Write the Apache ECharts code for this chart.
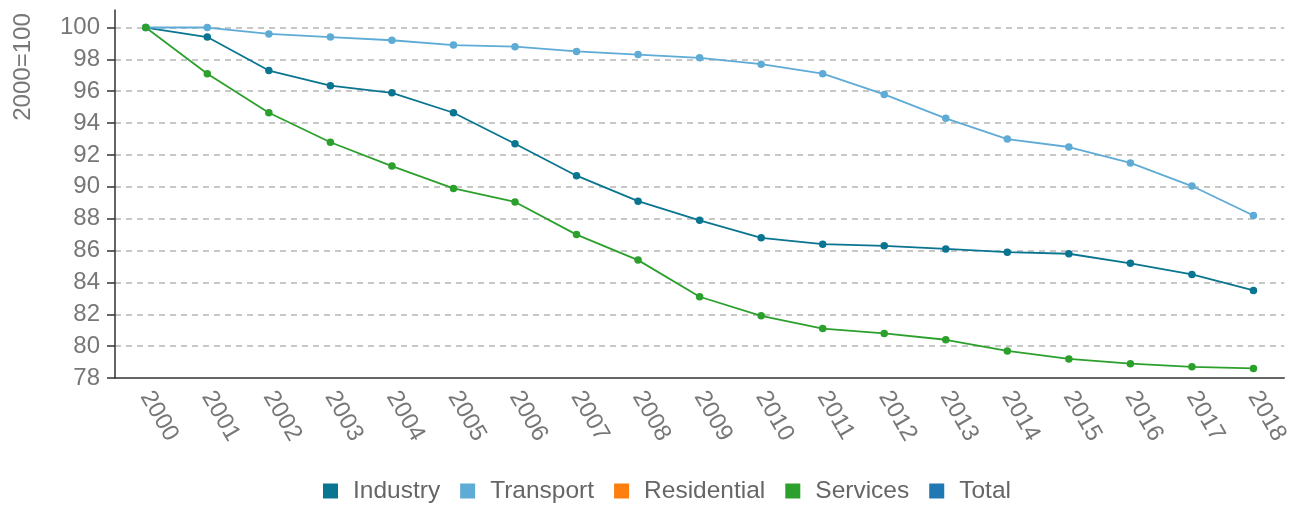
<!DOCTYPE html>
<html>
<head>
<meta charset="utf-8">
<script src="https://cdn.jsdelivr.net/npm/echarts@6/dist/echarts.min.js"></script>
<style>html,body{margin:0;padding:0;background:#fff}#c{width:1292px;height:505px}</style>
</head>
<body>
<div id="c"></div>
<script>
const years = ['2000','2001','2002','2003','2004','2005','2006','2007','2008','2009','2010','2011','2012','2013','2014','2015','2016','2017','2018'];
const industry = [100,99.4,97.3,96.35,95.9,94.65,92.7,90.7,89.1,87.9,86.8,86.4,86.3,86.1,85.9,85.8,85.2,84.5,83.5];
const transport = [100,100.0,99.6,99.4,99.2,98.9,98.8,98.5,98.3,98.1,97.7,97.1,95.8,94.3,93.0,92.5,91.5,90.05,88.2];
const residential = [];
const services = [100,97.1,94.65,92.8,91.3,89.9,89.05,87.0,85.4,83.1,81.9,81.1,80.8,80.4,79.7,79.2,78.9,78.7,78.6];
const total = [];
const yAxisTitle = '2000=100';

const colors = {Industry:'#0a7590', Transport:'#5eabd5', Residential:'#ff7f0e', Services:'#2ca02c', Total:'#1f77b4'};
const font = '"Liberation Sans", Arial, sans-serif';
function mk(name, data){
  return {name, type:'line', data, symbol:'circle', symbolSize:7.5, itemStyle:{color:colors[name]},
    lineStyle:{color:colors[name], width:1.8}, emphasis:{disabled:true}};
}
const chart = echarts.init(document.getElementById('c'), null, {renderer:'canvas'});
chart.setOption({
  animation:false,
  color: Object.values(colors),
  grid:{left:115, right:6, top:10, bottom:127, containLabel:false},
  legend:{left:318, top:473.5, itemWidth:15, itemHeight:15, itemGap:20, icon:'rect',
    textStyle:{fontFamily:font, fontSize:24.5, color:'#666', padding:[0,0,0,10]},
    data:['Industry','Transport','Residential','Services','Total']},
  graphic:[{type:'text', x:23, y:67, rotation:Math.PI/2,
    style:{text:yAxisTitle, font:'24px '+font, fill:'#777', textAlign:'center', textVerticalAlign:'middle'}}],
  xAxis:{type:'category', data:years, boundaryGap:true,
    axisLine:{lineStyle:{color:'#333', width:1.5}},
    axisTick:{alignWithLabel:true, length:9, lineStyle:{color:'#333', width:1.5}},
    axisLabel:{rotate:-60, margin:15, fontFamily:font, fontSize:24, color:'#777', interval:0},
    splitLine:{show:false}},
  yAxis:{type:'value', min:78, max:101.1, interval:2,
    axisLine:{show:true, lineStyle:{color:'#333', width:1.5}},
    axisTick:{show:true, length:8, lineStyle:{color:'#333', width:1.5}},
    axisLabel:{margin:15, fontFamily:font, fontSize:24, color:'#777', showMaxLabel:false,
      formatter:v => (Math.abs(v - Math.round(v)) < 1e-6 && Math.round(v)%2===0) ? String(Math.round(v)) : ''},
    splitLine:{show:true, showMaxLine:false, showMinLine:false, lineStyle:{color:'#b5b5b5', type:[6,5], width:1.5}}},
  series:[mk('Industry',industry), mk('Transport',transport), mk('Residential',residential), mk('Services',services), mk('Total',total)]
});
</script>
</body>
</html>
